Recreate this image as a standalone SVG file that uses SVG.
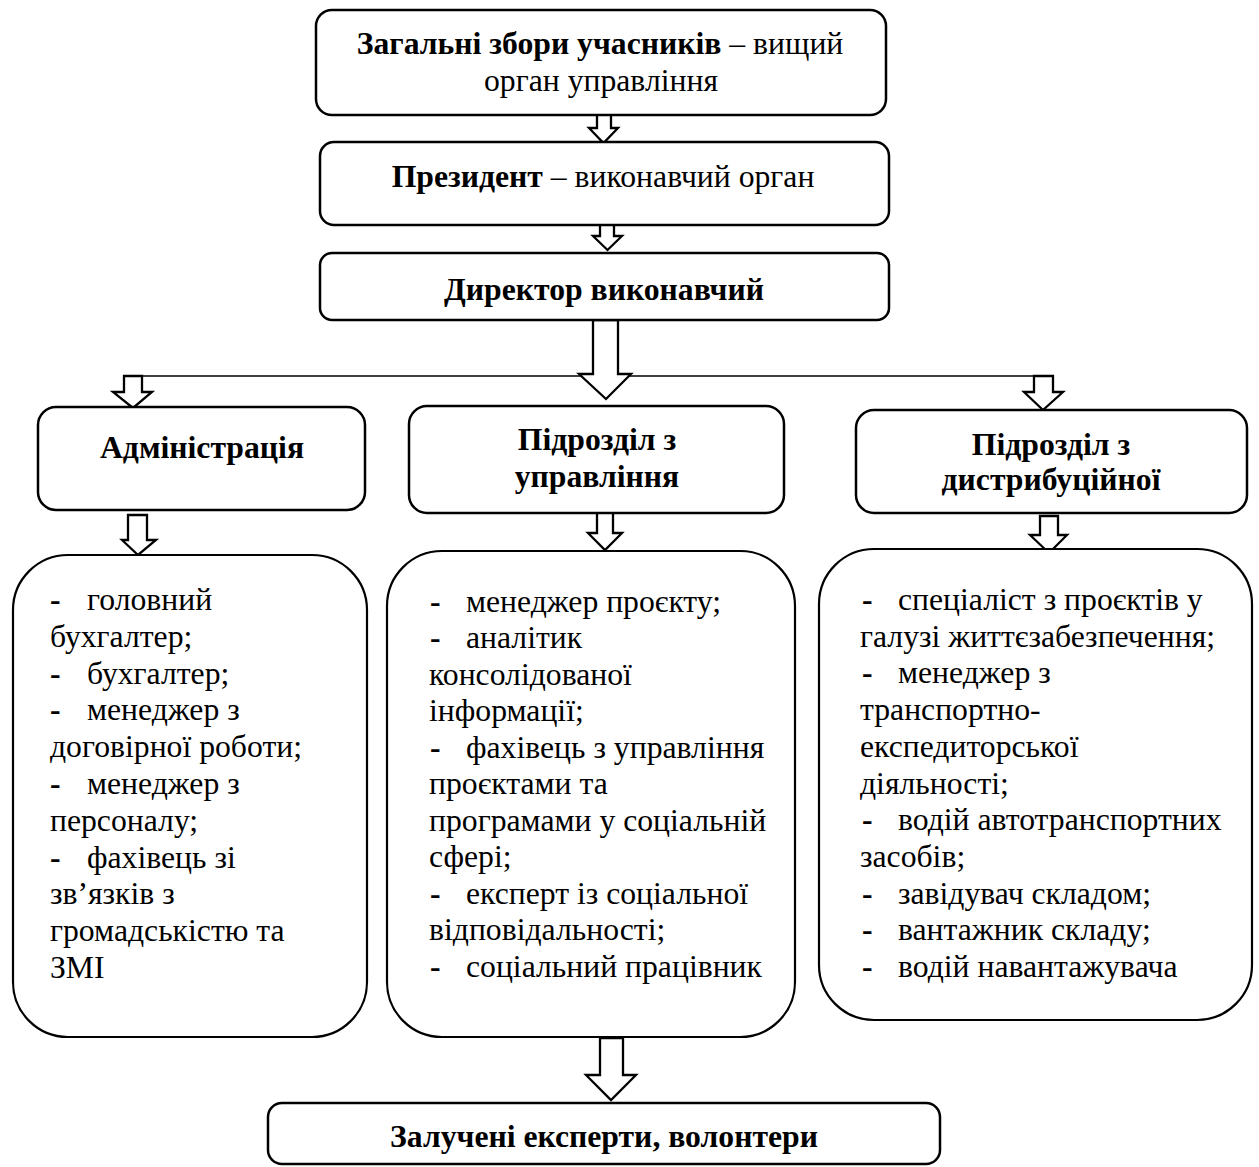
<svg xmlns="http://www.w3.org/2000/svg" width="1259" height="1167" viewBox="0 0 1259 1167">
<style>
.box{fill:#fff;stroke:#000;stroke-width:2.5}
.lst{fill:#fff;stroke:#000;stroke-width:2.2}
.arr{fill:#fff;stroke:#000;stroke-width:2.3;stroke-linejoin:miter}
.ln{stroke:#000;stroke-width:1.6;fill:none}
text{font-family:"Liberation Serif","Times New Roman",serif;font-size:31.7px;fill:#000}
.c{text-anchor:middle}
.b{font-weight:bold}
</style>
<rect width="1259" height="1167" fill="#fff"/>
<g id="connectors">
<line class="ln" x1="142" y1="376" x2="1034" y2="376"/>
<path class="arr" d="M597,114 H611 V128 H618 L603.5,143 L589,128 H597 Z"/>
<path class="arr" d="M600,217 H614 V236 H622 L607.5,250 L593,236 H600 Z"/>
<path class="arr" d="M593,320 H618 V374 H631 L606,399 L579,374 H593 Z"/>
<path class="arr" d="M124,376 H142 V392 H152 L133,408 L113,392 H124 Z"/>
<path class="arr" d="M1034,376 H1053 V392 H1063 L1043,410 L1024,392 H1034 Z"/>
<path class="arr" d="M128,515 H147 V540 H156 L138,555 L122,540 H128 Z"/>
<path class="arr" d="M597,512 H613 V533 H622 L605,550 L588,533 H597 Z"/>
<path class="arr" d="M1040,516 H1058 V535 H1067 L1049,553 L1030,535 H1040 Z"/>
<path class="arr" d="M600,1038 H623 V1075 H636 L611,1100 L586,1075 H600 Z"/>
</g>
<g id="n-general">
<rect class="box" x="316" y="10" width="570" height="105" rx="16"/>
<text class="c" x="600" y="54"><tspan class="b">Загальні збори учасників</tspan> – вищий</text>
<text class="c" x="601" y="91">орган управління</text>
</g>
<g id="n-president">
<rect class="box" x="320" y="142" width="569" height="83" rx="14"/>
<text class="c" x="603" y="187"><tspan class="b">Президент</tspan> – виконавчий орган</text>
</g>
<g id="n-director">
<rect class="box" x="320" y="253" width="569" height="67" rx="12"/>
<text class="c b" x="604" y="300">Директор виконавчий</text>
</g>
<g id="n-admin">
<rect class="box" x="38" y="407" width="327" height="103" rx="18"/>
<text class="c b" x="202" y="458">Адміністрація</text>
</g>
<g id="n-mgmt">
<rect class="box" x="409" y="406" width="375" height="107" rx="18"/>
<text class="c b" x="597" y="450">Підрозділ з</text>
<text class="c b" x="597" y="487">управління</text>
</g>
<g id="n-distr">
<rect class="box" x="856" y="410" width="391" height="103" rx="18"/>
<text class="c b" x="1051" y="455">Підрозділ з</text>
<text class="c b" x="1051" y="490">дистрибуційної</text>
</g>
<g id="n-admin-list">
<rect class="lst" x="13" y="555" width="354" height="482" rx="55"/>
<text x="50" y="610"><tspan class="b">-</tspan><tspan x="87">головний</tspan></text>
<text x="50" y="646.8">бухгалтер;</text>
<text x="50" y="683.6"><tspan class="b">-</tspan><tspan x="87">бухгалтер;</tspan></text>
<text x="50" y="720.4"><tspan class="b">-</tspan><tspan x="87">менеджер з</tspan></text>
<text x="50" y="757.2">договірної роботи;</text>
<text x="50" y="794"><tspan class="b">-</tspan><tspan x="87">менеджер з</tspan></text>
<text x="50" y="830.8">персоналу;</text>
<text x="50" y="867.6"><tspan class="b">-</tspan><tspan x="87">фахівець зі</tspan></text>
<text x="50" y="904.4">зв’язків з</text>
<text x="50" y="941.2">громадськістю та</text>
<text x="50" y="978">ЗМІ</text>
</g>
<g id="n-mgmt-list">
<rect class="lst" x="387" y="551" width="408" height="486" rx="55"/>
<text x="430" y="611.7"><tspan class="b">-</tspan><tspan x="466">менеджер проєкту;</tspan></text>
<text x="430" y="648.2"><tspan class="b">-</tspan><tspan x="466">аналітик</tspan></text>
<text x="429" y="684.7">консолідованої</text>
<text x="429" y="721.2">інформації;</text>
<text x="430" y="757.7"><tspan class="b">-</tspan><tspan x="466">фахівець з управління</tspan></text>
<text x="429" y="794.2">проєктами та</text>
<text x="429" y="830.7">програмами у соціальній</text>
<text x="429" y="867.2">сфері;</text>
<text x="430" y="903.7"><tspan class="b">-</tspan><tspan x="466">експерт із соціальної</tspan></text>
<text x="429" y="940.2">відповідальності;</text>
<text x="430" y="976.7"><tspan class="b">-</tspan><tspan x="466">соціальний працівник</tspan></text>
</g>
<g id="n-distr-list">
<rect class="lst" x="819" y="549" width="433" height="471" rx="55"/>
<text x="862" y="610"><tspan class="b">-</tspan><tspan x="898">спеціаліст з проєктів у</tspan></text>
<text x="860" y="646.7">галузі життєзабезпечення;</text>
<text x="862" y="683.4"><tspan class="b">-</tspan><tspan x="898">менеджер з</tspan></text>
<text x="860" y="720.1">транспортно-</text>
<text x="860" y="756.8">експедиторської</text>
<text x="860" y="793.5">діяльності;</text>
<text x="862" y="830.2"><tspan class="b">-</tspan><tspan x="898">водій автотранспортних</tspan></text>
<text x="860" y="866.9">засобів;</text>
<text x="862" y="903.6"><tspan class="b">-</tspan><tspan x="898">завідувач складом;</tspan></text>
<text x="862" y="940.3"><tspan class="b">-</tspan><tspan x="898">вантажник складу;</tspan></text>
<text x="862" y="977"><tspan class="b">-</tspan><tspan x="898">водій навантажувача</tspan></text>
</g>
<g id="n-experts">
<rect class="box" x="268" y="1103" width="672" height="61" rx="14"/>
<text class="c b" x="604" y="1147">Залучені експерти, волонтери</text>
</g>
</svg>
